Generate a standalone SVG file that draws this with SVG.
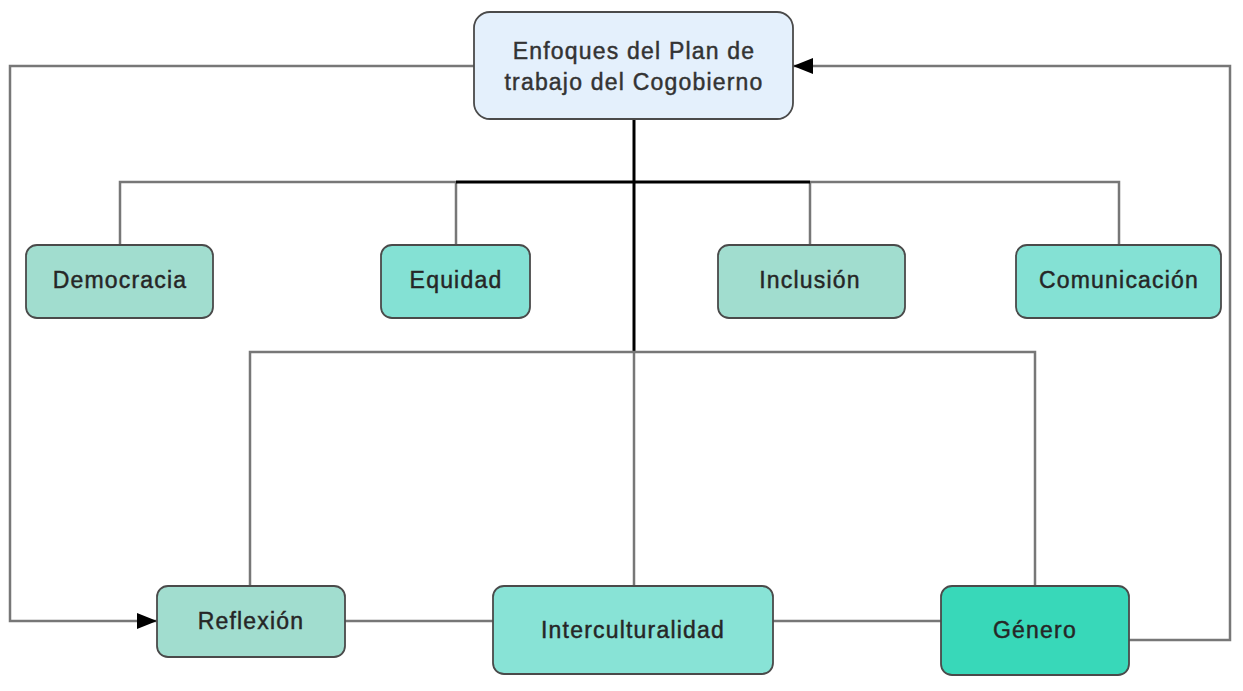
<svg xmlns="http://www.w3.org/2000/svg" width="1243" height="691" viewBox="0 0 1243 691">
<style>
.n{stroke:#4a4a4a;stroke-width:1.8}
.t{font-family:"Liberation Sans",Arial,sans-serif;font-size:23px;letter-spacing:1.2px;fill:#262626;stroke:#262626;stroke-width:0.45;text-anchor:middle}
.c{fill:none;stroke:#777;stroke-width:2.5}
.k{fill:none;stroke:#000;stroke-width:3}
</style>
<defs>
<marker id="ah" viewBox="0 0 10 10" refX="10" refY="5" markerWidth="20" markerHeight="20" markerUnits="userSpaceOnUse" orient="auto"><path d="M0,1L10,5L0,9z" fill="#000"/></marker>
</defs>
<rect width="1243" height="691" fill="#fff"/>
<g id="connectors">
<path class="c" d="M120,245V182H456"/>
<path class="c" d="M810,182H1119V245"/>
<path class="c" d="M456,245V182"/>
<path class="c" d="M810,245V182"/>
<path class="k" d="M456,182H810"/>
<path class="k" d="M634,119V352"/>
<path class="c" d="M250,586V352H1035V586"/>
<path class="c" d="M634,352V586"/>
<path class="c" d="M345,621H493"/>
<path class="c" d="M773,621H941"/>
<path class="c" d="M474,66H10V621H157" marker-end="url(#ah)"/>
<path class="c" d="M1129,640H1230V66H793" marker-end="url(#ah)"/>
</g>
<g id="n-top"><rect class="n" x="474" y="12" width="319" height="107" rx="16" fill="#e4f0fc"/><text class="t" x="634" y="59" style="fill:#333;stroke:#333">Enfoques del Plan de</text><text class="t" x="634" y="90" style="fill:#333;stroke:#333">trabajo del Cogobierno</text></g>
<g id="n-democracia"><rect class="n" x="26" y="245" width="187" height="73" rx="11" fill="#a1ddcf"/><text class="t" x="120" y="288">Democracia</text></g>
<g id="n-equidad"><rect class="n" x="381" y="245" width="149" height="73" rx="11" fill="#84e1d4"/><text class="t" x="456" y="288">Equidad</text></g>
<g id="n-inclusion"><rect class="n" x="718" y="245" width="187" height="73" rx="11" fill="#a1ddcf"/><text class="t" x="810" y="288">Inclusión</text></g>
<g id="n-comunicacion"><rect class="n" x="1016" y="245" width="205" height="73" rx="11" fill="#84e1d4"/><text class="t" x="1119" y="288">Comunicación</text></g>
<g id="n-reflexion"><rect class="n" x="157" y="586" width="188" height="71" rx="11" fill="#a1ddcf"/><text class="t" x="251" y="629">Reflexión</text></g>
<g id="n-interculturalidad"><rect class="n" x="493" y="586" width="280" height="88" rx="11" fill="#88e3d6"/><text class="t" x="633" y="638">Interculturalidad</text></g>
<g id="n-genero"><rect class="n" x="941" y="586" width="188" height="89" rx="11" fill="#38d8b9"/><text class="t" x="1035" y="638">Género</text></g>
</svg>
